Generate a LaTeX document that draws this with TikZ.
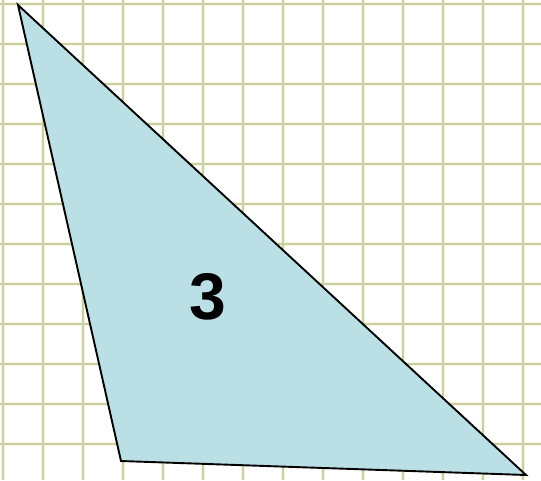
\documentclass[tikz,border=0pt]{standalone}
\usepackage{fontspec}
\setmainfont{Liberation Sans}
\usepackage{tikz}
\definecolor{gridolive}{RGB}{203,205,165}
\definecolor{gridhalo}{RGB}{246,247,222}
\definecolor{triblue}{RGB}{186,223,228}

\begin{document}
\begin{tikzpicture}[x=1pt, y=-1pt,
    halo/.style={draw=gridhalo, line width=4pt},
    gline/.style={draw=gridolive, line width=1.3pt},
    tri/.style={fill=triblue, draw=black, line width=1.9pt, line join=miter},
    num/.style={font=\fontsize{66}{66}\selectfont\bfseries, inner sep=0pt}]
  \fill[white] (0,0) rectangle (541,480);
  \useasboundingbox (0,0) rectangle (541,480);
  \foreach \x in {3,43,...,523} {
    \draw[halo] (\x,0) -- (\x,480);
  }
  \foreach \y in {4,44,...,444} {
    \draw[halo] (0,\y) -- (541,\y);
  }
  \foreach \x in {3,43,...,523} {
    \draw[gline] (\x,0) -- (\x,480);
  }
  \foreach \y in {4,44,...,444} {
    \draw[gline] (0,\y) -- (541,\y);
  }
  \coordinate (apex) at (18,5);
  \coordinate (left) at (121,461);
  \coordinate (right) at (526,475);
  \draw[tri] (apex) -- (left) -- (right) -- cycle;
  \node[num] (label) at (208,297) {3};
\end{tikzpicture}
\end{document}
